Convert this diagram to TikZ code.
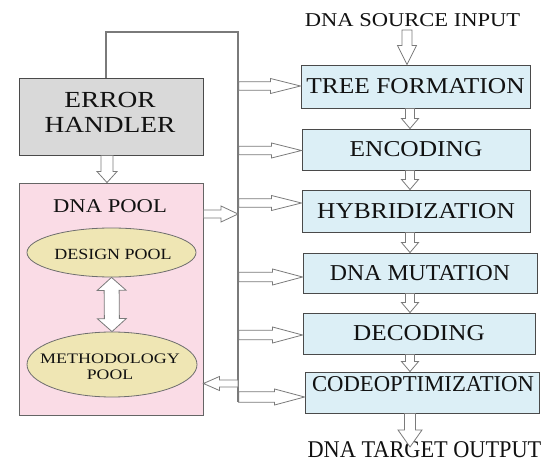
\documentclass[tikz,border=0pt]{standalone}
\usepackage{fontspec}
\setmainfont{Liberation Serif}
\usepackage{graphicx}
\usetikzlibrary{shapes.geometric,calc}
\definecolor{errfill}{HTML}{D9D9D9}
\definecolor{poolfill}{HTML}{FADCE6}
\definecolor{ellfill}{HTML}{EFE6B4}
\definecolor{boxfill}{HTML}{DCEFF6}
\definecolor{edge}{HTML}{4A4A4A}
\definecolor{linegray}{HTML}{7A7A7A}
\definecolor{txt}{HTML}{111111}
\newcommand\HS[2]{\scalebox{#1}[1]{#2}}
\tikzset{
  blk/.style n args={3}{to path={
    let \p1=(\tikztostart), \p2=(\tikztotarget),
        \p3=($(\p2)!#3!(\p1)$) in
    ($(\p1)!#1!90:(\p2)$) -- ($(\p3)!#1!90:(\p2)$) -- ($(\p3)!#2!90:(\p2)$)
    -- (\p2) -- ($(\p3)!#2!-90:(\p2)$) -- ($(\p3)!#1!-90:(\p2)$)
    -- ($(\p1)!#1!-90:(\p2)$) -- cycle}},
  dblk/.style n args={3}{to path={
    let \p1=(\tikztostart), \p2=(\tikztotarget),
        \p3=($(\p1)!#3!(\p2)$), \p4=($(\p2)!#3!(\p1)$) in
    (\p1) -- ($(\p3)!#2!90:(\p2)$) -- ($(\p3)!#1!90:(\p2)$) -- ($(\p4)!#1!90:(\p2)$)
    -- ($(\p4)!#2!90:(\p2)$) -- (\p2) -- ($(\p4)!#2!-90:(\p2)$) -- ($(\p4)!#1!-90:(\p2)$)
    -- ($(\p3)!#1!-90:(\p2)$) -- ($(\p3)!#2!-90:(\p2)$) -- cycle}},
  arr/.style={draw=linegray, fill=white, line width=0.8pt, line join=miter},
  gline/.style={draw=linegray, line width=1.3pt},
  stage/.style={draw=edge, fill=boxfill, line width=0.9pt, font={\fontsize{22.7}{25}\selectfont}},
  pooltext/.style={ellipse, draw=edge!80, fill=ellfill, line width=0.8pt},
}
\begin{document}
\begin{tikzpicture}[x=1pt,y=-1pt, every node/.style={text=txt, inner sep=0pt}]
\useasboundingbox (0,0) rectangle (554,465);

% left side
\node[draw=edge, fill=errfill, line width=0.9pt, minimum width=184pt, minimum height=77pt] (err) at (111,116.5) {};
\node[align=center, font={\fontsize{23}{25}\selectfont}] (errtxt) at (110,112) {\HS{1.19}{ERROR}\\\HS{1.19}{HANDLER}};
\node[draw=edge!85, fill=poolfill, line width=0.9pt, minimum width=184pt, minimum height=232pt] (pool) at (111,299) {};
\node[font={\fontsize{19.5}{21}\selectfont}] (pooltxt) at (110,206) {\HS{1.16}{DNA POOL}};
\node[pooltext, minimum width=169pt, minimum height=49pt] (design) at (111.5,252.5) {};
\node[font={\fontsize{15.5}{17}\selectfont}] (designtxt) at (113,254) {\HS{1.16}{DESIGN POOL}};
\node[pooltext, minimum width=170pt, minimum height=65pt] (method) at (112,364.5) {};
\node[align=center, font={\fontsize{14.5}{16}\selectfont}] (methodtxt) at (110,367) {\HS{1.24}{METHODOLOGY}\\\HS{1.22}{POOL}};

% right side
\node[font={\fontsize{19.6}{21}\selectfont}] (src) at (412.5,20) {\HS{1.15}{DNA SOURCE INPUT}};
\node[stage, minimum width=229pt, minimum height=43pt] (tree) at (415.5,86.5) {\raisebox{2pt}{\HS{1.12}{TREE FORMATION}}};
\node[stage, minimum width=228pt, minimum height=41pt] (enc) at (416,149.5) {\HS{1.12}{ENCODING}};
\node[stage, minimum width=228pt, minimum height=42pt] (hyb) at (416,211) {\HS{1.12}{HYBRIDIZATION}};
\node[stage, minimum width=234pt, minimum height=40pt] (mut) at (420,273) {\HS{1.05}{DNA MUTATION}};
\node[stage, minimum width=232pt, minimum height=41pt] (dec) at (419,333.5) {\HS{1.11}{DECODING}};
\node[stage, minimum width=234pt, minimum height=41pt] (cod) at (422,392.5) {};
\node[font={\fontsize{22.7}{25}\selectfont}] (codtxt) at (423,384.5) {\HS{1.0}{CODEOPTIMIZATION}};
\node[font={\fontsize{24}{26}\selectfont}] (tgt) at (424.5,450) {\HS{0.93}{DNA TARGET OUTPUT}};

% feedback line
\coordinate (c0) at (106,32);
\coordinate (c1) at (238,32);
\coordinate (lb) at (238,402);
\draw[gline] (err.north -| c0) -- (c0) -- (c1) -- (lb);

% flow arrows
\coordinate (fx) at (410,0);
\coordinate (sx) at (407,0);
\draw[arr] (sx |- 0,30) to[blk={5pt}{9.5pt}{19pt}] (tree.north -| sx);
\draw[arr] (tree.south -| fx) to[blk={4.5pt}{8.5pt}{10pt}] (enc.north -| fx);
\draw[arr] (enc.south -| fx) to[blk={4.5pt}{8.5pt}{10pt}] (hyb.north -| fx);
\draw[arr] (hyb.south -| fx) to[blk={4.5pt}{8.5pt}{10pt}] (mut.north -| fx);
\draw[arr] (mut.south -| fx) to[blk={4.5pt}{8.5pt}{10pt}] (dec.north -| fx);
\draw[arr] (dec.south -| fx) to[blk={4.5pt}{8.5pt}{10pt}] (cod.north -| fx);
\draw[arr] (cod.south -| fx) to[blk={5.5pt}{12pt}{17pt}] (fx |- 0,447);

% error handler to pool
\draw[arr] (err.south -| 107,0) to[blk={6pt}{10pt}{11pt}] (pool.north -| 107,0);
% design <-> methodology
\draw[arr] (design.south) to[dblk={7.5pt}{14.5pt}{13pt}] (method.north);

% line to stages
\coordinate (l1) at (238.6,86);
\coordinate (l2) at (238.6,150.5);
\coordinate (l3) at (238.6,203);
\coordinate (l4) at (238.6,277);
\coordinate (l5) at (238.6,335);
\coordinate (l6) at (238.6,397);
\draw[arr] (l1) to[blk={4.3pt}{7.5pt}{30pt}] (l1 -| tree.west);
\draw[arr] (l2) to[blk={4.3pt}{7.5pt}{30pt}] (l2 -| enc.west);
\draw[arr] (l3) to[blk={4.3pt}{7.5pt}{30pt}] (l3 -| hyb.west);
\draw[arr] (l4) to[blk={4.8pt}{8pt}{30pt}] (l4 -| mut.west);
\draw[arr] (l5) to[blk={4.8pt}{8pt}{30pt}] (l5 -| dec.west);
\draw[arr] (l6) to[blk={5.2pt}{8pt}{30pt}] (l6 -| cod.west);

% pool to line and line to pool
\coordinate (pA) at (238,214);
\coordinate (pB) at (238,383.5);
\draw[arr] (pA -| pool.east) to[blk={4pt}{8pt}{17pt}] (pA);
\draw[arr] (pB) to[blk={3.5pt}{7pt}{16pt}] (pB -| pool.east);
\end{tikzpicture}
\end{document}
